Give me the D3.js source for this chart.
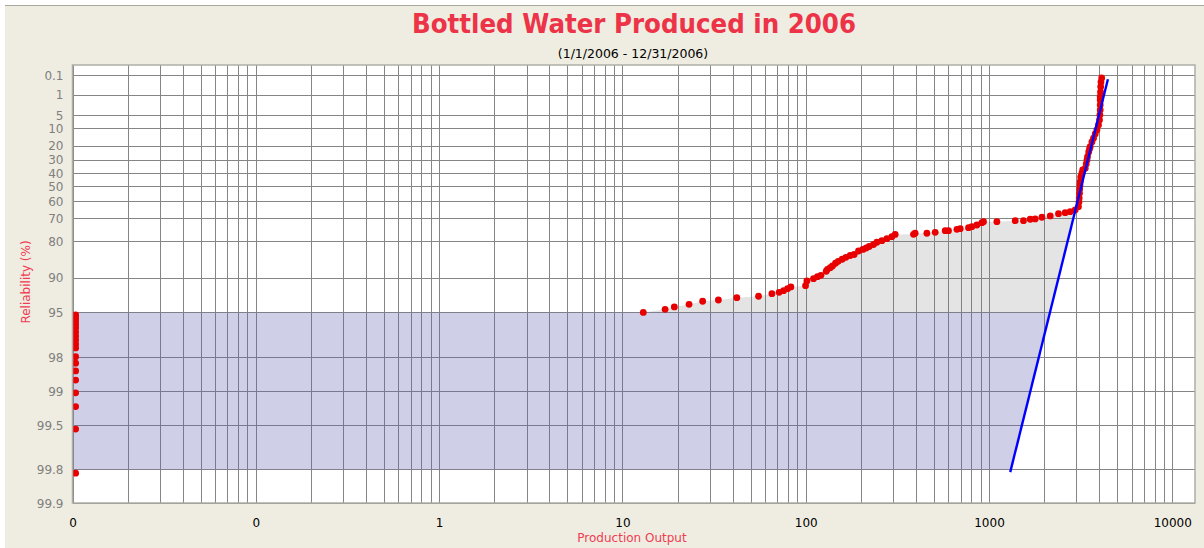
<!DOCTYPE html>
<html>
<head>
<meta charset="utf-8">
<script src="https://cdn.jsdelivr.net/npm/d3@7"></script>
<style>
  body { margin: 0; background: #ffffff; }
  svg { display: block; }
</style>
</head>
<body>
<svg id="chart" width="1204" height="548"></svg>
<script>
// ---- text ----
const titleText = "Bottled Water Produced in 2006";
const subtitleText = "(1/1/2006 - 12/31/2006)";
const xTitle = "Production Output";
const yTitle = "Reliability (%)";

// ---- axes ----
const xDomain = [0.01, 13300];
const yDomain = [0.0205, 99.9];
const xTickValues = [0.01, 0.1, 1, 10, 100, 1000, 10000];
const xTickLabels = ["0", "0", "1", "10", "100", "1000", "10000"];
const yTickValues = [0.1, 1, 5, 10, 20, 30, 40, 50, 60, 70, 80, 90, 95, 98, 99, 99.5, 99.8, 99.9];
const yTickLabels = ["0.1", "1", "5", "10", "20", "30", "40", "50", "60", "70", "80", "90", "95", "98", "99", "99.5", "99.8", "99.9"];

// ---- observations: days with (near) zero output ----
const zeroOutput = 0.0104;
const zeroReliability = [95.25, 95.53, 95.80, 96.08, 96.35, 96.64, 96.90, 97.14, 97.37, 97.57,
  97.97, 98.22, 98.48, 98.74, 99.03, 99.27, 99.54, 99.815];

// ---- observations: producing days ----
const curveOutput = [13.0, 17.1, 19.2, 23.1, 27.4, 33.4, 42.1, 55.3, 65.4, 71.6, 75.7, 79.6, 83.0,
  99.8, 101.5, 110.3, 116.0, 121.1, 129.4, 131.5, 136.1, 140.0, 145.4, 150.4, 158.1, 165.7, 174.9,
  183.9, 194.1, 205.1, 213.8, 222.0, 234.4, 244.6, 260.4, 277.3, 295.2, 307.7, 387.3, 395.4, 458.3,
  508.7, 576.8, 601.2, 668.3, 696.6, 773.2, 806.6, 859.0, 914.6, 933.3, 1104, 1390, 1542, 1679,
  1786, 1944, 2158, 2394, 2604, 2773, 2952,
  3077, 3097, 3105, 3117, 3124, 3137, 3145, 3165, 3213, 3245, 3350, 3391, 3425, 3448, 3499, 3535,
  3565, 3643, 3717, 3797, 3879, 3957, 4007, 4027, 4043, 4043, 4043, 4043, 4058, 4068, 4083, 4119];
const curveReliability = [95.00, 94.68, 94.42, 94.12, 93.75, 93.59, 93.28, 93.09, 92.73, 92.53, 92.28, 91.97, 91.69,
  91.48, 90.65, 90.22, 89.83, 89.55, 88.70, 88.26, 87.89, 87.49, 86.81, 86.30, 85.75, 85.21, 84.70,
  84.40, 83.34, 82.85, 82.37, 81.87, 81.18, 80.39, 79.80, 79.06, 78.28, 77.38, 77.31, 76.88, 76.88,
  76.47, 75.79, 75.79, 75.17, 74.89, 74.46, 73.99, 73.21, 72.09, 71.61, 71.61, 71.10, 71.10, 70.40,
  70.25, 69.37, 68.68, 67.45, 66.89, 66.32, 65.36,
  63.43, 60.56, 57.99, 54.85, 51.87, 49.04, 46.65, 43.16, 40.35, 37.86, 36.57, 33.30, 30.28, 27.83, 24.43, 22.32,
  20.78, 17.70, 15.41, 12.96, 10.87, 8.54, 6.53, 4.86, 3.50, 2.43, 1.62, 1.21, 0.772, 0.44, 0.253, 0.151];

// ---- fitted Weibull line (end points) ----
const fitOutput = [1305.5, 4453];
const fitReliability = [99.811, 0.18];

// ---- shaded reliability band ----
const bandReliability = [95, 99.8];

// ---- styles ----
const titleColor = "#ec3347";
const axisTitleColor = "#f03c52";
const dotColor = "#e80000";
const fitColor = "#0000ff";
const gridColor = "#858585";
const panelColor = "#efede1";

const W = 1204, H = 548;
const plot = { left: 72.5, right: 1195, top: 65, bottom: 503 };

const svg = d3.select("#chart");

// Weibull probability transform of reliability (%)
const wb = r => Math.log(-Math.log(r / 100));

const x = d3.scaleLog().domain(xDomain).range([plot.left, plot.right]);
const yLin = d3.scaleLinear().domain(yDomain.map(wb)).range([plot.top, plot.bottom]);
const y = r => yLin(wb(r));

// output on the fitted line for a given reliability
function fitX(r) {
  const l0 = Math.log10(fitOutput[0]), l1 = Math.log10(fitOutput[1]);
  const t0 = wb(fitReliability[0]), t1 = wb(fitReliability[1]);
  return Math.pow(10, l0 + (wb(r) - t0) * (l1 - l0) / (t1 - t0));
}

// background panel
svg.append("rect").attr("x", 0).attr("y", 0).attr("width", W).attr("height", H).attr("fill", "#ffffff");
svg.append("rect").attr("x", 5).attr("y", 5).attr("width", W - 5).attr("height", H - 5).attr("fill", panelColor);
svg.append("line").attr("x1", 5).attr("x2", W).attr("y1", 5.5).attr("y2", 5.5)
  .attr("stroke", "#a8a89c").attr("stroke-width", 1);

// plot area
svg.append("rect")
  .attr("x", plot.left).attr("y", plot.top)
  .attr("width", plot.right - plot.left).attr("height", plot.bottom - plot.top)
  .attr("fill", "#ffffff");

// grid
const grid = svg.append("g").attr("shape-rendering", "crispEdges");
grid.selectAll("line.v").data(x.ticks()).join("line")
  .attr("class", "v")
  .attr("x1", d => Math.round(x(d)) + 0.5).attr("x2", d => Math.round(x(d)) + 0.5)
  .attr("y1", plot.top).attr("y2", plot.bottom)
  .attr("stroke", gridColor).attr("stroke-width", 1);
grid.selectAll("line.h").data(yTickValues).join("line")
  .attr("class", "h")
  .attr("x1", plot.left).attr("x2", plot.right)
  .attr("y1", d => Math.round(y(d)) + 0.5).attr("y2", d => Math.round(y(d)) + 0.5)
  .attr("stroke", gridColor).attr("stroke-width", 1);

// shaded regions
const flatIdx = curveReliability.map((r, i) => i).filter(i => curveReliability[i] >= 65.3);
const grayPts = flatIdx.map(i => [x(curveOutput[i]), y(curveReliability[i])]);
grayPts.push([x(fitX(bandReliability[0])), y(bandReliability[0])]);
grayPts.push([x(curveOutput[0]), y(bandReliability[0])]);
svg.append("path")
  .attr("d", d3.line()(grayPts) + "Z")
  .attr("fill", "rgba(120,120,120,0.2)");

const bandPts = [
  [x(xDomain[0]), y(bandReliability[0])],
  [x(fitX(bandReliability[0])), y(bandReliability[0])],
  [x(fitX(bandReliability[1])), y(bandReliability[1])],
  [x(xDomain[0]), y(bandReliability[1])]
];
svg.append("path")
  .attr("d", d3.line()(bandPts) + "Z")
  .attr("fill", "rgba(96,100,180,0.3)");

// observations
const dots = svg.append("g").attr("fill", dotColor);
dots.selectAll("circle.z").data(zeroReliability).join("circle")
  .attr("class", "z")
  .attr("cx", x(zeroOutput)).attr("cy", d => y(d)).attr("r", 3.4);
dots.selectAll("circle.c").data(curveOutput.map((o, i) => [o, curveReliability[i]])).join("circle")
  .attr("class", "c")
  .attr("cx", d => x(d[0])).attr("cy", d => y(d[1])).attr("r", 3.4);

// fitted line
svg.append("line")
  .attr("x1", x(fitOutput[0])).attr("y1", y(fitReliability[0]))
  .attr("x2", x(fitOutput[1])).attr("y2", y(fitReliability[1]))
  .attr("stroke", fitColor).attr("stroke-width", 2.4);

// plot border
svg.append("rect")
  .attr("x", plot.left).attr("y", plot.top)
  .attr("width", plot.right - plot.left).attr("height", plot.bottom - plot.top)
  .attr("fill", "none").attr("stroke", "#aeaea6").attr("stroke-width", 1.5);

// axes
const font = "'DejaVu Sans', Verdana, sans-serif";
const yAxis = svg.append("g")
  .attr("transform", `translate(${plot.left},0)`)
  .call(d3.axisLeft(yLin).tickValues(yTickValues.map(wb))
    .tickFormat((d, i) => yTickLabels[i]).tickSize(0).tickPadding(9));
yAxis.select(".domain").remove();
yAxis.selectAll("text")
  .attr("fill", "#808080").style("font-family", font).style("font-size", "12px")
  .attr("dy", "0.36em");

const xAxis = svg.append("g")
  .attr("transform", `translate(0,${plot.bottom})`)
  .call(d3.axisBottom(x).tickValues(xTickValues)
    .tickFormat((d, i) => xTickLabels[i]).tickSize(0));
xAxis.select(".domain").remove();
xAxis.selectAll("text")
  .attr("y", 24).attr("dy", 0)
  .attr("fill", "#000000").style("font-family", font).style("font-size", "12px");

// titles
svg.append("text")
  .attr("x", 634).attr("y", 33)
  .attr("text-anchor", "middle")
  .attr("fill", titleColor)
  .attr("textLength", 444).attr("lengthAdjust", "spacingAndGlyphs")
  .style("font-family", font).style("font-weight", "bold").style("font-size", "27px")
  .text(titleText);

svg.append("text")
  .attr("x", 633).attr("y", 58)
  .attr("text-anchor", "middle")
  .attr("fill", "#000000")
  .style("font-family", font).style("font-size", "12.5px")
  .text(subtitleText);

svg.append("text")
  .attr("x", 632).attr("y", 542)
  .attr("text-anchor", "middle")
  .attr("fill", axisTitleColor)
  .style("font-family", font).style("font-size", "12px")
  .text(xTitle);

svg.append("text")
  .attr("transform", "translate(30,282) rotate(-90)")
  .attr("text-anchor", "middle")
  .attr("fill", axisTitleColor)
  .style("font-family", font).style("font-size", "12px")
  .text(yTitle);
</script>
</body>
</html>
